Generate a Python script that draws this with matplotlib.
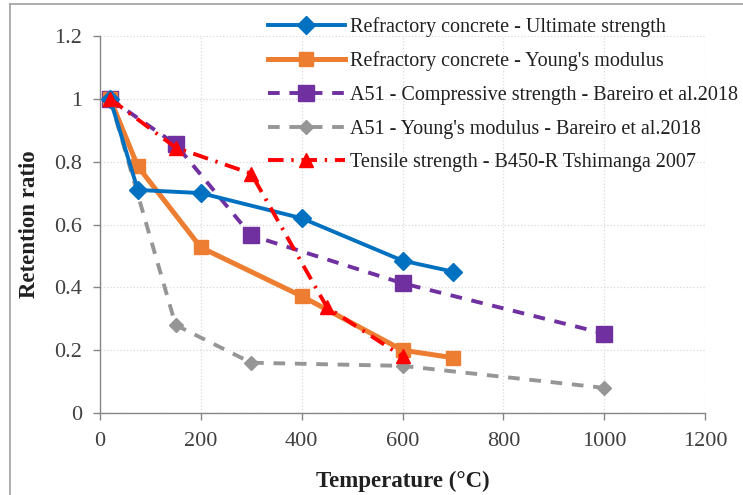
import matplotlib
matplotlib.use('Agg')
import matplotlib.pyplot as plt
from matplotlib.lines import Line2D

# Data
t_rc = [20, 75, 200, 400, 600, 700]
rc_ult = [1.0, 0.71, 0.70, 0.62, 0.485, 0.45]
rc_young = [1.0, 0.785, 0.527, 0.372, 0.20, 0.176]

t_a51 = [20, 150, 300, 600, 1000]
a51_comp = [1.0, 0.855, 0.565, 0.413, 0.253]
a51_young = [1.0, 0.28, 0.16, 0.15, 0.08]

t_tens = [20, 150, 300, 450, 600]
tens_b450 = [1.0, 0.845, 0.762, 0.337, 0.18]

labels = ['Refractory concrete - Ultimate strength',
          "Refractory concrete - Young's modulus",
          'A51 - Compressive strength - Bareiro et al.2018',
          "A51 - Young's modulus - Bareiro et al.2018",
          'Tensile strength - B450-R Tshimanga 2007']

plt.rcParams['font.family'] = ['Liberation Serif', 'DejaVu Serif']

fig = plt.figure(figsize=(7.43, 4.95), dpi=100)
ax = fig.add_axes([100/743, 1 - 413/495, 605/743, 377/495])

ax.plot(t_rc, rc_ult, color='#0070c0', lw=2.8, marker='D', ms=9,
        label=labels[0], zorder=5)
ax.plot(t_rc, rc_young, color='#ed7d31', lw=3.6, marker='s', ms=9.5,
        label=labels[1], zorder=4)
ax.plot(t_a51, a51_comp, color='#7030a0', lw=2.8, ls=(0, (3, 2.5)),
        marker='s', ms=11, label=labels[2], zorder=3)
ax.plot(t_a51, a51_young, color='#969696', lw=2.8, ls=(0, (3, 2.5)),
        marker='D', ms=7.5, label=labels[3], zorder=2)
ax.plot(t_tens, tens_b450, color='#ff0000', lw=2.8, ls=(0, (4, 2, 0.6, 2)),
        marker='^', ms=10, label=labels[4], zorder=6)

ax.set_xlim(0, 1200)
ax.set_ylim(0, 1.2)
ax.set_xticks(range(0, 1201, 200))
ax.set_yticks([0, 0.2, 0.4, 0.6, 0.8, 1.0, 1.2])
ax.set_yticklabels(['0', '0.2', '0.4', '0.6', '0.8', '1', '1.2'])
ax.grid(True, color='#d9d9d9', ls=':', lw=0.9)
ax.set_axisbelow(True)
for s in ['top', 'right']:
    ax.spines[s].set_visible(False)
for s in ['left', 'bottom']:
    ax.spines[s].set_color('#868686')
    ax.spines[s].set_linewidth(1.0)
ax.tick_params(colors='#868686', labelcolor='#404040', labelsize=16,
               length=5, width=1.0)
ax.tick_params(axis='x', pad=9)
ax.tick_params(axis='y', pad=8)

ax.set_xlabel('Temperature (°C)', fontsize=16.5, fontweight='bold',
              color='#202020', labelpad=14)
ax.set_ylabel('Retention ratio', fontsize=16.5, fontweight='bold',
              color='#202020', labelpad=10)

leg = ax.legend(loc='upper left', bbox_to_anchor=(260/743, 1 - 9/495),
                bbox_transform=fig.transFigure, frameon=False,
                fontsize=14.5, handlelength=3.8, handletextpad=0.25,
                labelspacing=0.72, borderaxespad=0)
for t in leg.get_texts():
    t.set_color('#202020')

# chart area border
fig.add_artist(Line2D([10/743, 10/743], [0, 1 - 4/495], color='#a0a0a0',
                      lw=1.2, transform=fig.transFigure))
fig.add_artist(Line2D([10/743, 1], [1 - 4/495, 1 - 4/495], color='#a0a0a0',
                      lw=1.2, transform=fig.transFigure))

fig.savefig('out.png', dpi=100)
